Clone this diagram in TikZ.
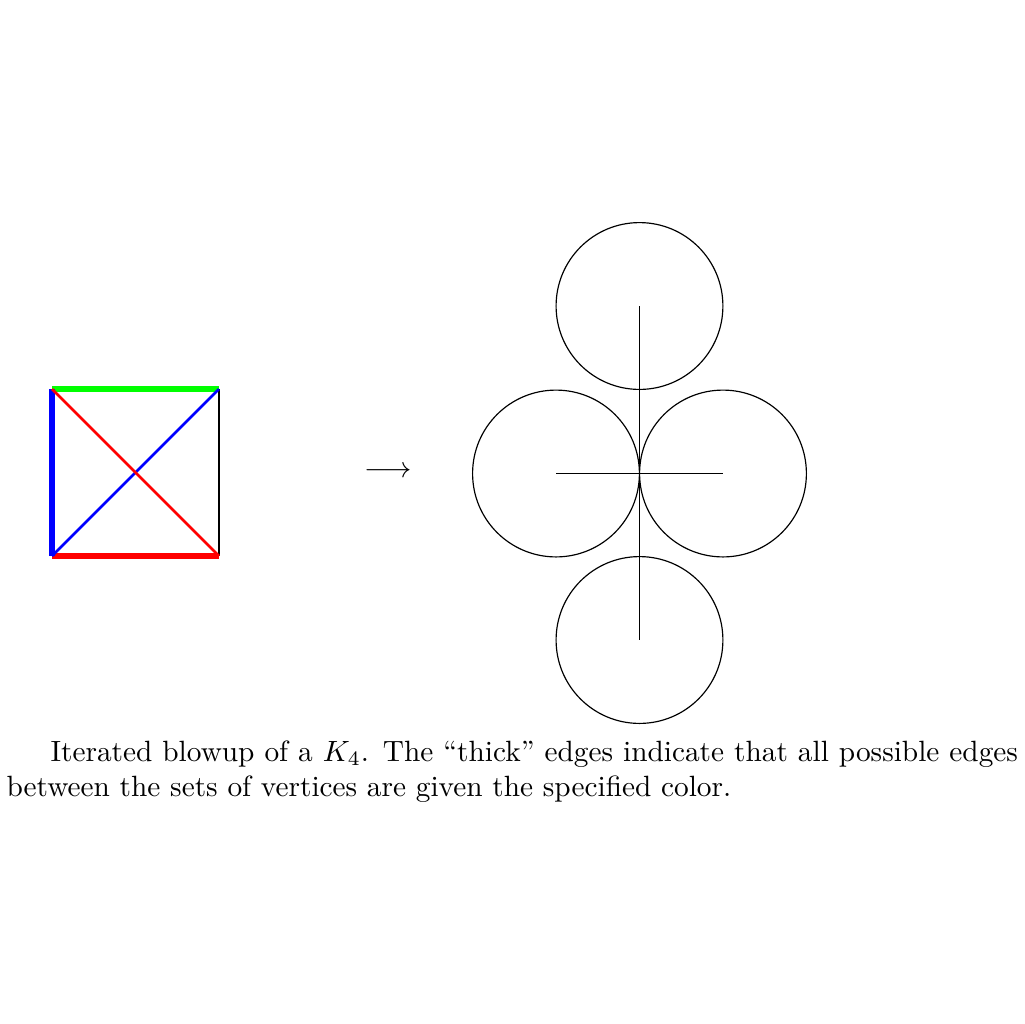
\documentclass[tikz,border=0pt]{standalone}
\begin{document}
\begin{tikzpicture}[x=0.3411pt,y=-0.3411pt,
  edge/.style={line width=0.9pt},
  heavy/.style={line width=2pt},
  blob/.style={line width=0.4pt}]
\useasboundingbox (0,0) rectangle (1024,1024);
% square K4
\coordinate (tl) at (52,389);
\coordinate (tr) at (219,389);
\coordinate (bl) at (52,556);
\coordinate (br) at (219,556);
\draw[heavy, green] (tl) -- (tr);
\draw[heavy, red] (bl) -- (br);
\draw[heavy, blue] (tl) -- (bl);
\draw[edge] (tr) -- (br);
\draw[edge, blue] (bl) -- (tr);
\draw[edge, red] (tl) -- (br);
% arrow
\node (arr) at (388,472) {$\longrightarrow$};
% blown up
\coordinate (ct) at (639.5,306);
\coordinate (cl) at (556,473.5);
\coordinate (cr) at (723,473.5);
\coordinate (cb) at (639.5,640);
\draw[blob] (ct) circle[radius=1cm];
\draw[blob] (cl) circle[radius=1cm];
\draw[blob] (cr) circle[radius=1cm];
\draw[blob] (cb) circle[radius=1cm];
\draw[blob] (ct) -- (cb);
\draw[blob] (cl) -- (cr);
% caption
\node[anchor=north west, inner sep=0pt, text width=345pt, align=justify] (cap) at (6,740)
 {\hspace*{15pt}Iterated blowup of a $K_4$. The ``thick'' edges indicate that all possible edges between the sets of vertices are given the specified color.};
\end{tikzpicture}
\end{document}
